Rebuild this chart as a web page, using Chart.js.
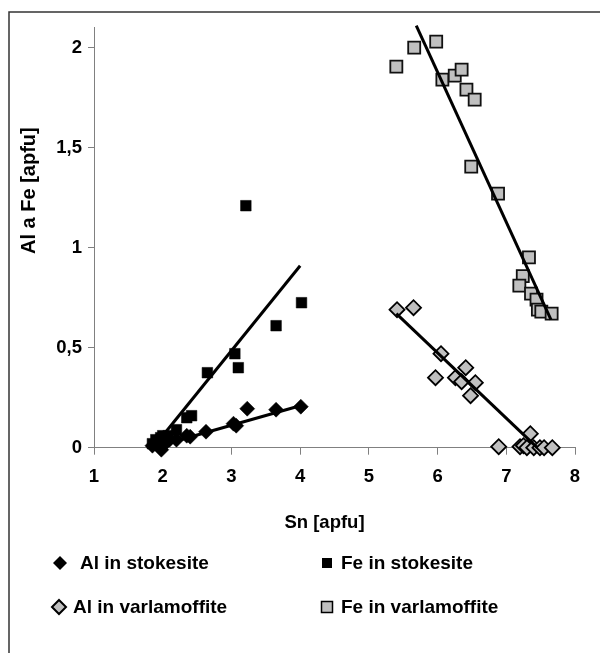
<!DOCTYPE html>
<html>
<head>
<meta charset="utf-8">
<script src="https://cdn.jsdelivr.net/npm/chart.js@4.4.1/dist/chart.umd.min.js"></script>
<style>
    html, body { margin: 0; padding: 0; background: #fff; }
    #wrap { position: relative; width: 600px; height: 653px; }
</style>
</head>
<body>
<div id="wrap"><canvas id="chart"></canvas></div>
<script>
// Axes
const xTicks = [1, 2, 3, 4, 5, 6, 7, 8];
const yTicks = [0, 0.5, 1, 1.5, 2];
const xTitle = 'Sn [apfu]';
const yTitle = 'Al a Fe [apfu]';
const seriesNames = ['Al in stokesite', 'Fe in stokesite', 'Al in varlamoffite', 'Fe in varlamoffite'];

// Al in stokesite
const alStokX = [1.85, 1.9, 1.95, 1.98, 2.0, 2.05, 2.1, 2.2, 2.35, 2.4, 2.63, 3.03, 3.07, 3.23, 3.65, 4.01];
const alStokY = [0.01, 0.03, 0.02, -0.01, 0.01, 0.03, 0.04, 0.04, 0.06, 0.055, 0.08, 0.12, 0.11, 0.195, 0.19, 0.205];

// Fe in stokesite
const feStokX = [1.85, 1.9, 1.93, 1.97, 2.0, 2.03, 2.08, 2.2, 2.35, 2.42, 2.65, 3.05, 3.1, 3.21, 3.65, 4.02];
const feStokY = [0.02, 0.04, 0.03, 0.05, 0.06, 0.04, 0.06, 0.09, 0.15, 0.16, 0.375, 0.47, 0.4, 1.21, 0.61, 0.725];

// Al in varlamoffite
const alVarX = [5.41, 5.65, 6.05, 5.97, 6.26, 6.35, 6.41, 6.48, 6.55, 6.89, 7.2, 7.25, 7.3, 7.35, 7.4, 7.49, 7.55, 7.67];
const alVarY = [0.69, 0.70, 0.47, 0.35, 0.35, 0.33, 0.40, 0.26, 0.325, 0.005, 0.005, 0.01, 0.0, 0.07, 0.0, 0.0, 0.0, 0.0];

// Fe in varlamoffite
const feVarX = [5.40, 5.66, 5.98, 6.07, 6.25, 6.35, 6.42, 6.54, 6.49, 6.88, 7.33, 7.24, 7.19, 7.36, 7.44, 7.46, 7.51, 7.66];
const feVarY = [1.905, 2.0, 2.03, 1.84, 1.86, 1.89, 1.79, 1.74, 1.405, 1.27, 0.952, 0.858, 0.81, 0.77, 0.74, 0.69, 0.68, 0.67];

// Trend lines (end points)
const alStokLineX = [1.95, 4.0];
const alStokLineY = [0.01, 0.21];
const feStokLineX = [2.0, 4.0];
const feStokLineY = [0.06, 0.91];
const alVarLineX = [5.4, 7.45];
const alVarLineY = [0.67, 0.0];
const feVarLineX = [5.69, 7.65];
const feVarLineY = [2.11, 0.64];

const FONT = "'Liberation Sans', Arial, sans-serif";
Chart.defaults.font.family = FONT;
Chart.defaults.color = '#000';

function zip(xs, ys) {
    return xs.map((x, i) => ({ x: x, y: ys[i] }));
}

function trend(xs, ys) {
    return {
        type: 'line',
        data: zip(xs, ys),
        borderColor: '#000',
        borderWidth: 3,
        pointRadius: 0,
        fill: false,
        clip: false
    };
}

// cadre, titres des axes et légende
const extras = {
    id: 'extras',
    afterDraw(chart) {
        const ctx = chart.ctx;
        ctx.save();

        ctx.strokeStyle = '#333';
        ctx.lineWidth = 1.5;
        ctx.beginPath();
        ctx.moveTo(600, 12);
        ctx.lineTo(9, 12);
        ctx.lineTo(9, 653);
        ctx.stroke();

        ctx.fillStyle = '#000';
        ctx.font = 'bold 18.5px ' + FONT;
        ctx.textAlign = 'center';
        ctx.textBaseline = 'middle';
        ctx.fillText(xTitle, 324.5, 522.5);

        ctx.save();
        ctx.font = 'bold 20px ' + FONT;
        ctx.translate(29, 254);
        ctx.rotate(-Math.PI / 2);
        ctx.textAlign = 'left';
        ctx.fillText(yTitle, 0, 0);
        ctx.restore();

        const items = [
            { x: 60, y: 563, tx: 80, shape: 'diamond', fill: '#000', r: 7, lw: 0 },
            { x: 327, y: 563, tx: 341, shape: 'square', fill: '#000', r: 5, lw: 0 },
            { x: 59, y: 607, tx: 73, shape: 'diamond', fill: '#c0c0c0', r: 7, lw: 2 },
            { x: 327, y: 607, tx: 341, shape: 'square', fill: '#c0c0c0', r: 5.5, lw: 1.5 }
        ];
        ctx.font = 'bold 19px ' + FONT;
        ctx.textAlign = 'left';
        items.forEach((it, i) => {
            ctx.beginPath();
            if (it.shape === 'diamond') {
                ctx.moveTo(it.x, it.y - it.r);
                ctx.lineTo(it.x + it.r, it.y);
                ctx.lineTo(it.x, it.y + it.r);
                ctx.lineTo(it.x - it.r, it.y);
                ctx.closePath();
            } else {
                ctx.rect(it.x - it.r, it.y - it.r, it.r * 2, it.r * 2);
            }
            ctx.fillStyle = it.fill;
            ctx.fill();
            if (it.lw) {
                ctx.lineWidth = it.lw;
                ctx.strokeStyle = '#000';
                ctx.stroke();
            }
            ctx.fillStyle = '#000';
            ctx.fillText(seriesNames[i], it.tx, it.y + 1);
        });

        ctx.restore();
    }
};

new Chart(document.getElementById('chart'), {
    type: 'scatter',
    data: {
        datasets: [
            trend(alStokLineX, alStokLineY),
            trend(feStokLineX, feStokLineY),
            trend(alVarLineX, alVarLineY),
            trend(feVarLineX, feVarLineY),
            {
                label: seriesNames[0],
                data: zip(alStokX, alStokY),
                pointStyle: 'rectRot',
                pointRadius: 7.5,
                backgroundColor: '#000',
                borderColor: '#000',
                borderWidth: 0.5,
                clip: false
            },
            {
                label: seriesNames[1],
                data: zip(feStokX, feStokY),
                pointStyle: 'rect',
                pointRadius: 7.5,
                backgroundColor: '#000',
                borderColor: '#000',
                borderWidth: 0.5,
                clip: false
            },
            {
                label: seriesNames[2],
                data: zip(alVarX, alVarY),
                pointStyle: 'rectRot',
                pointRadius: 7.5,
                backgroundColor: '#c0c0c0',
                borderColor: '#000',
                borderWidth: 1.8,
                clip: false
            },
            {
                label: seriesNames[3],
                data: zip(feVarX, feVarY),
                pointStyle: 'rect',
                pointRadius: 8.5,
                backgroundColor: '#c0c0c0',
                borderColor: '#111',
                borderWidth: 1.8,
                clip: false
            }
        ]
    },
    options: {
        responsive: true,
        maintainAspectRatio: false,
        animation: false,
        events: [],
        layout: {
            padding: { left: 0, top: 27.7, right: 25, bottom: 145.3 }
        },
        plugins: {
            legend: { display: false },
            tooltip: { enabled: false }
        },
        scales: {
            x: {
                type: 'linear',
                min: 1,
                max: 8,
                afterFit: (scale) => { scale.height = 60; },
                afterBuildTicks: (scale) => { scale.ticks = xTicks.map(v => ({ value: v })); },
                grid: {
                    drawOnChartArea: false,
                    drawTicks: true,
                    tickLength: 7,
                    color: '#808080'
                },
                border: { color: '#808080', width: 1 },
                ticks: {
                    padding: 11,
                    font: { size: 18.5, weight: 'bold' },
                    color: '#000'
                }
            },
            y: {
                type: 'linear',
                min: 0,
                max: 2.1,
                afterFit: (scale) => { scale.width = 94; },
                afterBuildTicks: (scale) => { scale.ticks = yTicks.map(v => ({ value: v })); },
                grid: {
                    drawOnChartArea: false,
                    drawTicks: true,
                    tickLength: 6,
                    color: '#808080'
                },
                border: { color: '#808080', width: 1 },
                ticks: {
                    padding: 6,
                    font: { size: 18.5, weight: 'bold' },
                    color: '#000',
                    callback: (v) => String(v).replace('.', ',')
                }
            }
        }
    },
    plugins: [extras]
});
</script>
</body>
</html>
